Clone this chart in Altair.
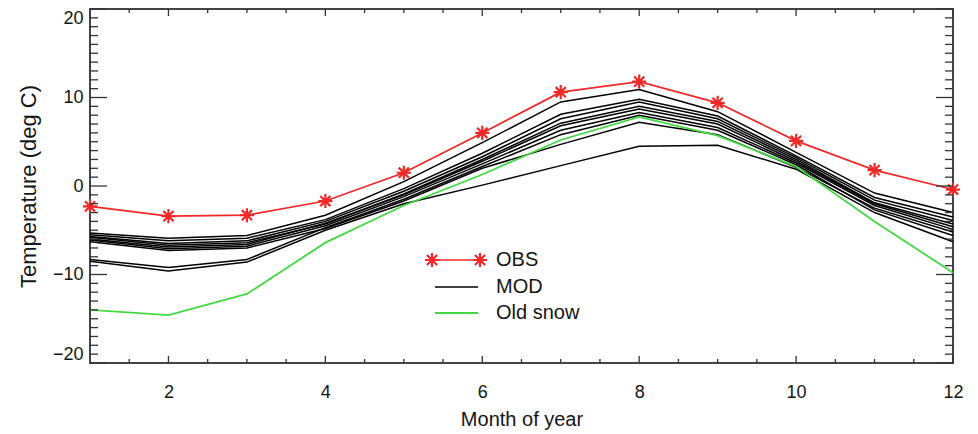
import altair as alt
import pandas as pd

# ---------------- data ----------------
months = [1, 2, 3, 4, 5, 6, 7, 8, 9, 10, 11, 12]
obs = [-2.3, -3.4, -3.3, -1.7, 1.5, 6.0, 10.6, 11.8, 9.4, 5.1, 1.8, -0.4]
old_snow = [-14.0, -14.6, -12.2, -6.4, -2.2, 1.3, 5.2, 7.8, 5.7, 2.2, -4.0, -9.8]

mod_a = [-5.3, -5.9, -5.6, -3.3, 0.5, 4.9, 9.5, 10.9, 8.4, 3.8, -0.8, -3.0]
mod_b = [-5.5, -6.2, -5.9, -3.8, -0.3, 3.7, 8.1, 9.8, 7.9, 3.4, -1.3, -3.5]
mod_c = [-5.7, -6.5, -6.2, -4.0, -0.6, 3.3, 7.6, 9.5, 7.6, 3.2, -1.6, -3.9]
mod_d = [-5.8, -6.7, -6.4, -4.3, -0.9, 3.0, 7.1, 9.0, 7.3, 3.0, -1.9, -4.3]
mod_i = [-6.0, -6.9, -6.6, -4.2, -1.0, 2.8, 6.8, 8.7, 7.0, 2.8, -2.0, -4.6]
mod_e = [-6.1, -7.1, -6.8, -4.5, -1.2, 2.5, 6.3, 8.3, 6.6, 2.6, -2.2, -4.9]
mod_h = [-8.3, -9.2, -8.3, -4.7, -1.5, 2.2, 5.8, 8.0, 6.3, 2.4, -2.7, -5.6]
mod_f = [-6.3, -7.3, -7.0, -4.8, -1.7, 2.0, 4.7, 7.2, 5.8, 2.1, -2.5, -5.2]
mod_g = [-8.5, -9.6, -8.6, -5.0, -2.0, 0.1, 2.3, 4.5, 4.6, 1.9, -3.0, -6.3]
mod_runs = [mod_a, mod_b, mod_c, mod_d, mod_i, mod_e, mod_h, mod_f, mod_g]

x_tick_labels = [2, 4, 6, 8, 10, 12]
y_tick_labels = [-20, -10, 0, 10, 20]
x_minor = [1.5, 2.5, 3, 3.5, 4.5, 5, 5.5, 6.5, 7, 7.5, 8.5, 9, 9.5, 10.5, 11, 11.5]
y_minor = [v for v in range(-20, 21) if v % 10 != 0]

legend_labels = ["OBS", "MOD", "Old snow"]

# ---------------- tables ----------------
obs_df = pd.DataFrame({"month": months, "temp": obs})
snow_df = pd.DataFrame({"month": months, "temp": old_snow})
mod_df = pd.DataFrame(
    [{"run": i, "month": m, "temp": v} for i, run in enumerate(mod_runs) for m, v in zip(months, run)]
)

W, H = 863, 354
FONT = "Liberation Sans"
RED = "#f02828"
GREEN = "#44d844"
AX = "#333333"
TXT = "#151515"

xs = alt.Scale(domain=[1, 12], nice=False, zero=False)
ys = alt.Scale(domain=[-20, 20], nice=False, zero=False)

x_axis = alt.Axis(values=x_tick_labels, format="d", tickSize=0, domain=False, grid=False,
                  labelFont=FONT, labelFontSize=18, labelColor=TXT, labelPadding=20,
                  labelFlush=False,
                  title="Month of year", titleFont=FONT, titleFontSize=20,
                  titleFontWeight="normal", titleColor=TXT, titlePadding=8)
y_axis = alt.Axis(values=y_tick_labels, format="d", tickSize=0, domain=False, grid=False,
                  labelFont=FONT, labelFontSize=18, labelColor=TXT, labelPadding=7,
                  labelFlush=True,
                  title="Temperature (deg C)", titleFont=FONT, titleFontSize=22,
                  titleFontWeight="normal", titleColor=TXT, titlePadding=12)

X = alt.X("month:Q", scale=xs)
Y = alt.Y("temp:Q", scale=ys)

mod_layer = alt.Chart(mod_df).mark_line(color="black", strokeWidth=1.5).encode(
    x=alt.X("month:Q", scale=xs, axis=x_axis, title="Month of year"),
    y=alt.Y("temp:Q", scale=ys, axis=y_axis, title="Temperature (deg C)"),
    detail="run:N",
)
snow_layer = alt.Chart(snow_df).mark_line(color=GREEN, strokeWidth=1.8).encode(x=X, y=Y)
obs_line = alt.Chart(obs_df).mark_line(color=RED, strokeWidth=1.7).encode(x=X, y=Y)
ASTER = "M-1,0L1,0M0,-1L0,1M-0.72,-0.72L0.72,0.72M-0.72,0.72L0.72,-0.72"
obs_pts = alt.Chart(obs_df).mark_point(shape=ASTER, size=200, filled=False,
                                       color=RED, strokeWidth=2.2, opacity=1).encode(x=X, y=Y)

# inward ticks on all four sides
ymaj = pd.DataFrame({"temp": y_tick_labels})
ymin = pd.DataFrame({"temp": y_minor})
xmaj = pd.DataFrame({"month": x_tick_labels})
xmin = pd.DataFrame({"month": x_minor})

def yticks(df, length):
    left = alt.Chart(df).mark_rule(color=AX, strokeWidth=1.3).encode(
        y=Y, x=alt.value(0), x2=alt.value(length))
    right = alt.Chart(df).mark_rule(color=AX, strokeWidth=1.3).encode(
        y=Y, x=alt.value(W), x2=alt.value(W - length))
    return [left, right]

def xticks(df, length):
    bottom = alt.Chart(df).mark_rule(color=AX, strokeWidth=1.3).encode(
        x=X, y=alt.value(H), y2=alt.value(H - length))
    top = alt.Chart(df).mark_rule(color=AX, strokeWidth=1.3).encode(
        x=X, y=alt.value(0), y2=alt.value(length))
    return [bottom, top]

tick_layers = yticks(ymaj, 17) + yticks(ymin, 8) + xticks(xmaj, 7) + xticks(xmin, 4)

# legend (inside plot)
one = pd.DataFrame({"label": legend_labels})
LX1, LX2, TX = 342, 390, 406
LY = [251, 278, 304]
leg = []
leg.append(alt.Chart(one.iloc[[0]]).mark_rule(color=RED, strokeWidth=1.7).encode(
    x=alt.value(LX1), x2=alt.value(LX2), y=alt.value(LY[0])))
for xx in (LX1, LX2):
    leg.append(alt.Chart(one.iloc[[0]]).mark_point(shape=ASTER, size=200, filled=False,
                                                   color=RED, strokeWidth=2.2, opacity=1).encode(
        x=alt.value(xx), y=alt.value(LY[0])))
leg.append(alt.Chart(one.iloc[[1]]).mark_rule(color="black", strokeWidth=1.5).encode(
    x=alt.value(LX1 + 3), x2=alt.value(LX2 - 2), y=alt.value(LY[1])))
leg.append(alt.Chart(one.iloc[[2]]).mark_rule(color=GREEN, strokeWidth=1.8).encode(
    x=alt.value(LX1 + 3), x2=alt.value(LX2 - 2), y=alt.value(LY[2])))
for i in range(3):
    leg.append(alt.Chart(one.iloc[[i]]).mark_text(align="left", baseline="middle", font=FONT,
                                                  fontSize=20, color=TXT).encode(
        x=alt.value(TX), y=alt.value(LY[i]), text="label:N"))

chart = alt.layer(mod_layer, snow_layer, obs_line, obs_pts, *tick_layers, *leg).properties(
    width=W, height=H,
    autosize=alt.AutoSizeParams(type="none"),
    padding={"left": 90, "top": 9, "right": 25, "bottom": 71},
    background="white",
).configure_view(stroke="#444", strokeWidth=2)

chart.save("out.html", embed_options={"renderer": "svg", "actions": False})
